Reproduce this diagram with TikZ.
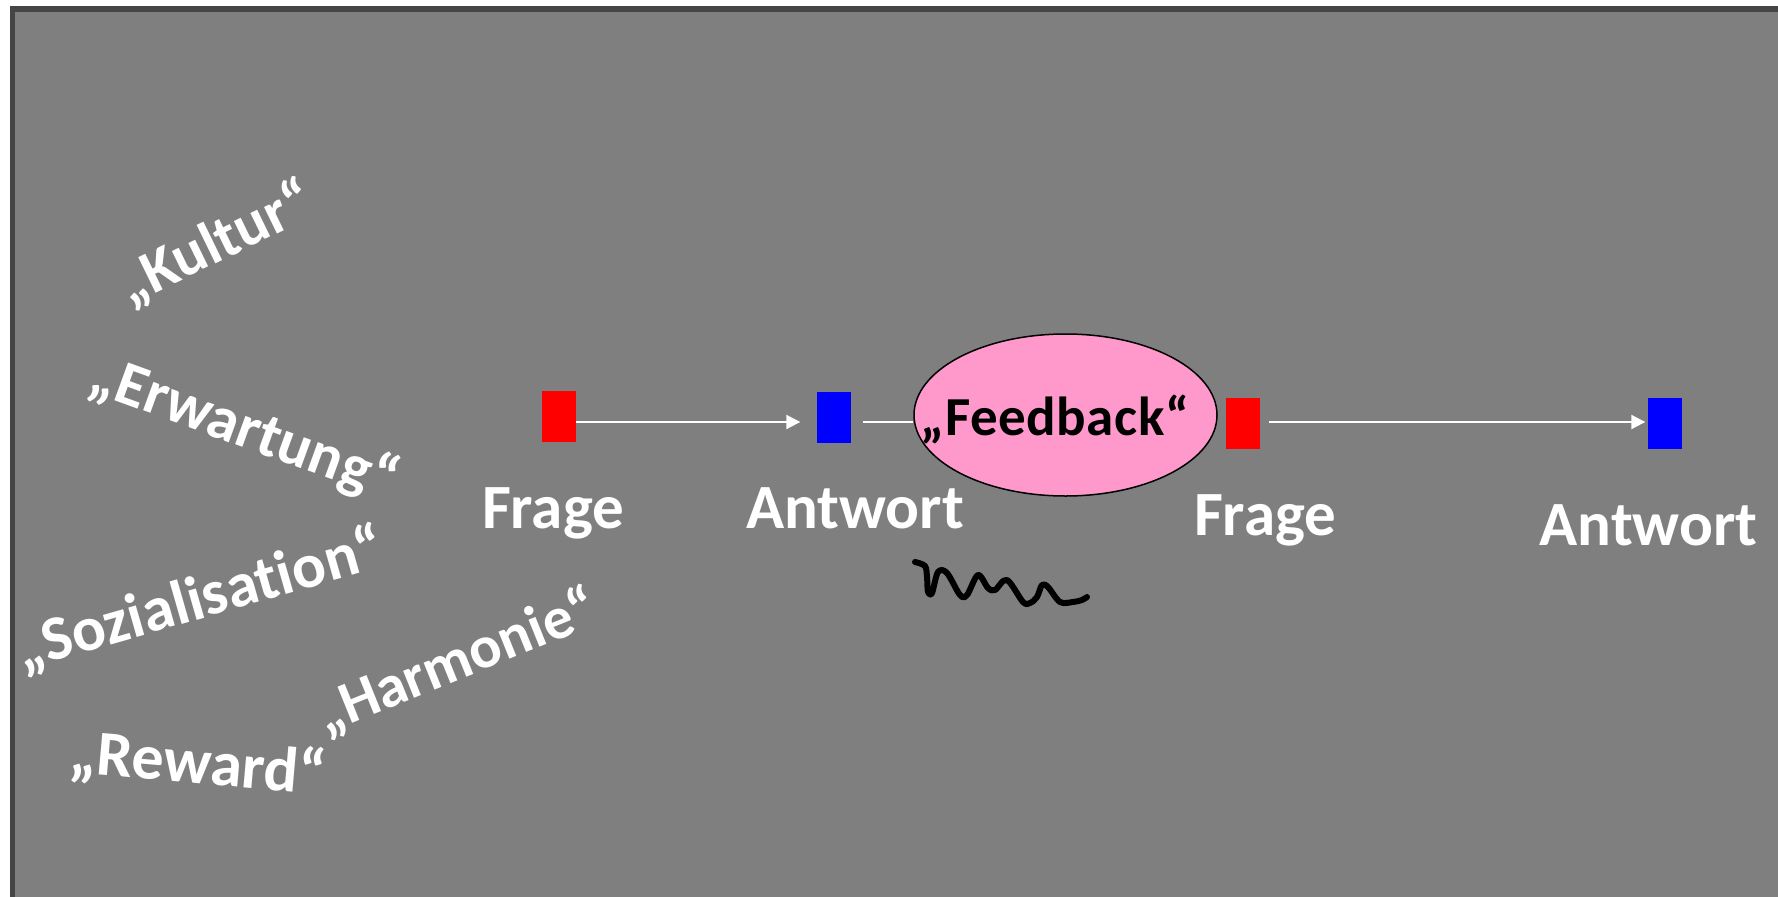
\documentclass[tikz,border=0pt]{standalone}
\usepackage{fontspec}
\setmainfont{Carlito}[Ligatures=NoCommon]
\usetikzlibrary{shapes.geometric,arrows.meta}
\definecolor{bggray}{HTML}{7F7F7F}
\definecolor{framegray}{HTML}{454545}
\definecolor{pinkfill}{HTML}{FF99CC}
\tikzset{
  sq/.style={inner sep=0pt, minimum width=34pt, minimum height=51pt},
  redsq/.style={sq, fill={rgb,255:red,255;green,0;blue,0}},
  bluesq/.style={sq, fill={rgb,255:red,0;green,0;blue,255}},
  lbl/.style={text=white, font=\fontsize{63}{70}\selectfont\bfseries, anchor=base, inner sep=0pt},
  tilt/.style={text=white, inner sep=0pt},
  conn/.style={draw=white, line width=2pt},
  arr/.style={conn, -{Triangle[length=14pt,width=14pt]}},
}
\begin{document}
\begin{tikzpicture}[x=1pt,y=-1pt]
\useasboundingbox (0,0) rectangle (1778,897);
\fill[white] (0,0) rectangle (1778,897);
\fill[framegray] (10,6) rectangle (1778,897);
\fill[bggray] (15,12) rectangle (1778,897);

% boxes
\node[redsq]  (r1) at (558.5,416) {};
\node[bluesq] (b1) at (833.5,417.5) {};
\node[draw=black, line width=1.5pt, fill=pinkfill, ellipse, inner sep=0pt,
      minimum width=303pt, minimum height=162pt] (fb) at (1065.5,415) {};
\node[redsq]  (r2) at (1243,423.5) {};
\node[bluesq] (b2) at (1664.5,423.5) {};

\node[anchor=base, inner sep=0pt, font=\fontsize{55}{60}\selectfont\bfseries\addfontfeature{LetterSpace=1}] (fbt) at (1055,435) {„Feedback“};

% connectors
\draw[arr, shorten >=16pt] (r1.east |- 0,422) -- (b1.west |- 0,422);
\draw[conn, shorten <=12pt] (b1.east |- 0,422) -- (fb.west |- 0,422);
\draw[arr, shorten <=9pt, shorten >=2pt] (r2.east |- 0,422) -- (b2.west |- 0,422);

% labels
\node[lbl] (q1) at (553,528) {Frage};
\node[lbl] (a1) at (855,528) {Antwort};
\node[lbl] (q2) at (1265,535) {Frage};
\node[lbl] (a2) at (1648.5,545) {Antwort};

% tilted words
\node[tilt, rotate=26, font=\fontsize{61}{66}\selectfont\bfseries] (kul) at (216,244) {„Kultur“};
\node[tilt, rotate=-20, font=\fontsize{62}{68}\selectfont\bfseries] (erw) at (244,429) {„Erwartung“};
\node[tilt, rotate=16, font=\fontsize{63}{68}\selectfont\bfseries] (soz) at (200,600) {„Sozialisation“};
\node[tilt, rotate=22, font=\fontsize{60}{66}\selectfont\bfseries] (har) at (457,662) {„Harmonie“};
\node[tilt, rotate=-5, font=\fontsize{64}{70}\selectfont\bfseries] (rew) at (198,765) {„Reward“};

% squiggle
\draw[black, line width=6pt, line cap=round, line join=round]
  plot[smooth, tension=0.55] coordinates {(915,562) (925,566) (927,577) (928,592) (932,593) (938,572) (947,573) (960,595) (967,595) (978,575) (988,588) (995,590) (1007,580) (1023,602) (1030,603) (1037,597) (1042,585) (1048,587) (1060,602) (1073,602) (1082,600) (1087,597)};
\end{tikzpicture}
\end{document}
